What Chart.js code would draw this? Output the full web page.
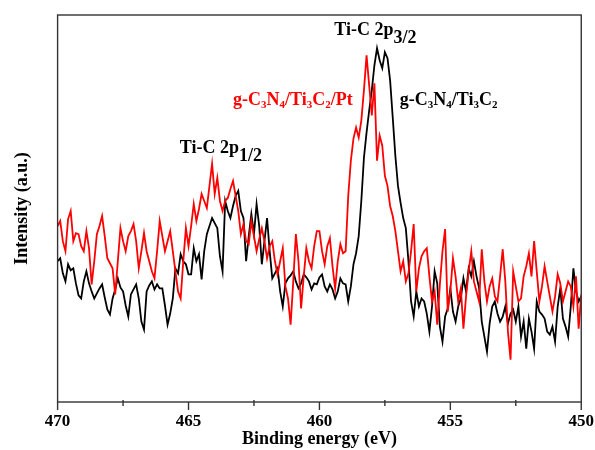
<!DOCTYPE html>
<html>
<head>
<meta charset="utf-8">
<script src="https://cdn.jsdelivr.net/npm/chart.js@4.4.0/dist/chart.umd.min.js"></script>
<style>
html,body{margin:0;padding:0;background:#fff;}
#wrap{width:595px;height:450px;}
</style>
</head>
<body>
<div id="wrap"><canvas id="c" width="595" height="450"></canvas></div>
<script>
// Binding energy grid: 470.0 -> 450.0 eV, 0.1 eV steps
const energyStart = 470.0;
const energyStep = -0.1;

// g-C3N4/Ti3C2 (black)
const intensityTi3C2 = [
140,143,128,120,137,131,133,118,106,103,
120,130,118,110,103,108,113,117,104,92,
87,103,112,123,114,110,96,85,107,112,
117,103,80,72,110,116,120,112,117,113,
113,96,77,88,103,133,128,147,140,137,
127,127,153,140,147,122,150,167,175,183,
178,173,145,130,200,190,183,195,205,210,
190,183,140,165,187,167,197,175,137,160,
183,150,123,128,133,110,95,118,123,126,
130,120,113,118,127,124,120,112,118,117,
124,127,115,110,117,112,103,110,123,118,
117,100,115,137,148,165,200,243,268,290,
310,335,352,340,332,348,342,320,283,245,
215,198,183,173,140,100,85,110,95,103,
100,88,70,95,130,118,75,60,85,93,
113,90,80,95,103,123,110,133,125,140,
125,113,80,65,50,78,95,100,88,80,
85,95,78,88,92,80,95,65,80,53,
83,70,53,100,90,87,83,70,67,75,
60,95,113,83,75,65,95,133,110,100,105
];

// g-C3N4/Ti3C2/Pt (red)
const intensityTi3C2Pt = [
175,180,160,150,182,190,160,168,167,155,
150,170,153,117,140,167,175,185,165,143,
138,133,107,140,173,160,150,165,170,177,
160,133,150,168,150,140,130,123,150,180,
165,150,160,170,150,130,110,103,140,173,
155,175,197,180,192,207,200,193,215,237,
207,223,200,190,200,203,212,220,205,190,
167,177,160,157,180,165,150,162,173,160,
143,155,160,140,127,140,153,115,103,77,
120,167,140,93,125,153,140,133,155,170,
170,150,137,155,163,135,113,140,157,148,
150,205,240,262,273,263,280,310,345,315,
285,317,240,265,255,225,215,195,185,170,
150,130,140,120,128,150,177,110,133,145,
150,153,125,100,110,77,117,150,172,90,
110,143,125,100,113,73,105,130,150,120,
110,100,152,120,100,115,123,105,100,125,
152,120,70,42,130,115,100,103,125,135,
148,125,160,130,100,115,135,120,105,90,
105,127,118,100,110,120,115,95,125,73,107
];

const xTickValues = [470, 465, 460, 455, 450];
const xTitle = 'Binding energy (eV)';
const yTitle = 'Intensity (a.u.)';

function toPoints(arr){
  return arr.map((v,i)=>({x: +(energyStart + energyStep*i).toFixed(1), y: v}));
}

const SERIF = '"Liberation Serif","Times New Roman",serif';

const framePlugin = {
  id: 'frame',
  afterDraw(chart){
    const {ctx, chartArea:a, scales:{x, y}} = chart;
    ctx.save();
    ctx.strokeStyle = '#333';
    ctx.lineWidth = 1.4;
    ctx.strokeRect(a.left, a.top, a.right - a.left, a.bottom - a.top);
    // outward ticks: major every 5 eV, minor every 2.5 eV
    for (let v = 450; v <= 470.001; v += 2.5){
      const px = x.getPixelForValue(v);
      const major = Math.abs(v/5 - Math.round(v/5)) < 1e-6;
      ctx.beginPath();
      ctx.moveTo(px, a.bottom - (major ? 0 : 2));
      ctx.lineTo(px, a.bottom + (major ? 8 : 4));
      ctx.stroke();
    }
    // annotations
    const label = (parts, ex, iy, color) => {
      let px = x.getPixelForValue(ex);
      const py = y.getPixelForValue(iy);
      ctx.fillStyle = color;
      ctx.textBaseline = 'middle';
      ctx.textAlign = 'left';
      for (const p of parts){
        ctx.font = 'bold ' + p.size + 'px ' + SERIF;
        ctx.fillText(p.t, px, py + (p.dy || 0));
        px += ctx.measureText(p.t).width;
      }
    };
    label([{t:'Ti-C 2p', size:18},{t:'1/2', size:18, dy:8}], 465.33, 252, '#000');
    label([{t:'Ti-C 2p', size:18},{t:'3/2', size:18, dy:8}], 459.43, 370, '#000');
    label([{t:'g-C', size:18},{t:'3', size:11, dy:5},{t:'N', size:18},{t:'4', size:11, dy:5},
           {t:'/Ti', size:18},{t:'3', size:11, dy:5},{t:'C', size:18},{t:'2', size:11, dy:5},
           {t:'/Pt', size:18}], 463.3, 300, '#ff0000');
    label([{t:'g-C', size:18},{t:'3', size:11, dy:5},{t:'N', size:18},{t:'4', size:11, dy:5},
           {t:'/Ti', size:18},{t:'3', size:11, dy:5},{t:'C', size:18},{t:'2', size:11, dy:5}],
           456.93, 300, '#000');
    ctx.restore();
  }
};

new Chart(document.getElementById('c'), {
  type: 'line',
  data: {
    datasets: [
      { label: 'g-C3N4/Ti3C2', data: toPoints(intensityTi3C2), borderColor: '#000000', borderWidth: 1.8, pointRadius: 0, tension: 0, order: 2 },
      { label: 'g-C3N4/Ti3C2/Pt', data: toPoints(intensityTi3C2Pt), borderColor: '#ff0000', borderWidth: 1.8, pointRadius: 0, tension: 0, order: 1 }
    ]
  },
  options: {
    responsive: false,
    animation: false,
    events: [],
    layout: { padding: { left: 8, right: 0, top: 15, bottom: 0 } },
    plugins: { legend: { display: false }, tooltip: { enabled: false } },
    scales: {
      x: {
        type: 'linear', reverse: true, min: 450, max: 470,
        afterBuildTicks: (s) => { s.ticks = xTickValues.map(v => ({value: v})); },
        ticks: { font: { family: SERIF, size: 17, weight: 'bold' }, color: '#000', padding: 1, maxRotation: 0, autoSkip: false },
        grid: { display: false },
        border: { display: false },
        title: { display: true, text: xTitle, font: { family: SERIF, size: 18, weight: 'bold' }, color: '#000', padding: { top: -4, bottom: 0 } }
      },
      y: {
        min: 0, max: 385,
        ticks: { display: false },
        grid: { display: false },
        border: { display: false },
        title: { display: true, text: yTitle, font: { family: SERIF, size: 18, weight: 'bold' }, color: '#000', padding: { top: 4, bottom: 16 } }
      }
    }
  },
  plugins: [framePlugin]
});
</script>
</body>
</html>
